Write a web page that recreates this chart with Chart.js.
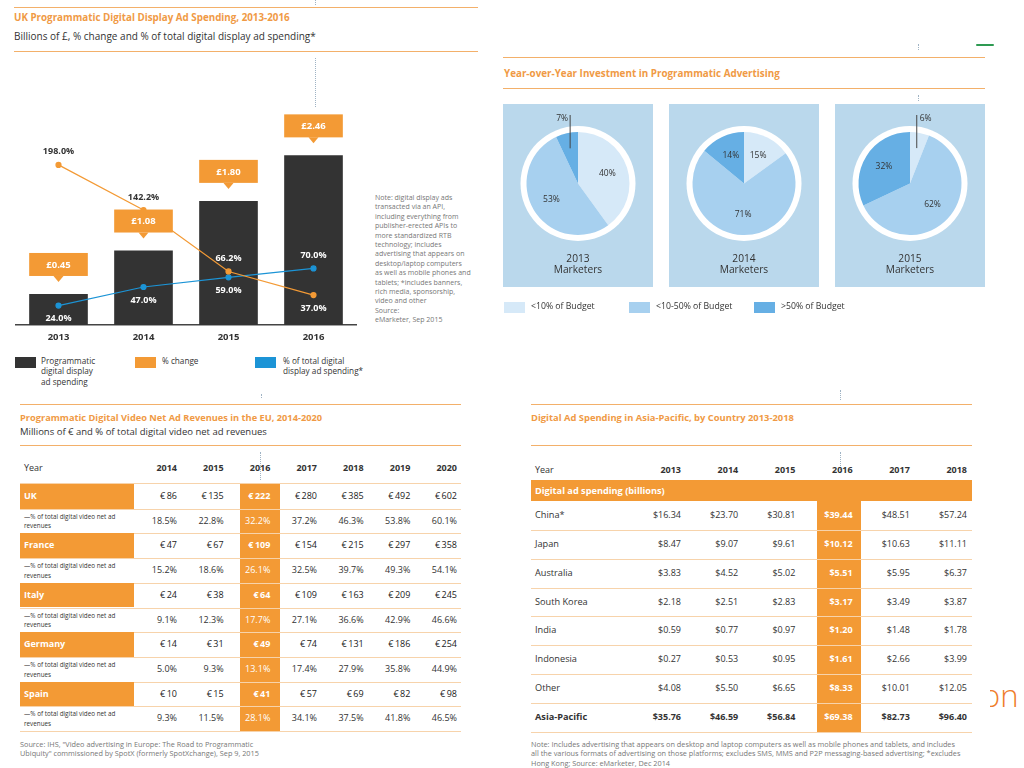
<!DOCTYPE html>
<html>
<head>
<meta charset="utf-8">
<script src="https://cdn.jsdelivr.net/npm/chart.js@4.4.1/dist/chart.umd.min.js"></script>
<style>
body{margin:0;width:1024px;height:768px;position:relative;overflow:hidden;background:#fff;font-family:"Open Sans",sans-serif;color:#333}
.abs{position:absolute;white-space:nowrap}
.rule{position:absolute;height:0;border-top:1.5px solid #f3b06a}
.title{position:absolute;color:#f09a45;font-weight:bold;font-size:9.8px;white-space:nowrap}
.sub{position:absolute;color:#333;font-size:10px;white-space:nowrap}
.dots{position:absolute;width:0;border-left:1px dotted #9fb3c4}
.sq{position:absolute;width:21px;height:11px}
.leg{position:absolute;font-size:8.2px;line-height:10.4px;color:#333}
.note{position:absolute;font-size:7.3px;line-height:9.4px;color:#777;white-space:nowrap}
.box{position:absolute;top:104px;width:150px;height:183px;background:#bad8ec}
.box canvas{position:absolute;left:0;top:0}
.box .yr{position:absolute;left:0;width:150px;top:149px;text-align:center;font-size:10.2px;line-height:10.5px;color:#333}
</style>
</head>
<body>

<!-- panel 1 -->
<div class="rule" style="left:14px;top:7px;width:464px"></div>
<div class="title" style="left:14px;top:11px">UK Programmatic Digital Display Ad Spending, 2013-2016</div>
<div class="sub" style="left:14px;top:29px">Billions of £, % change and % of total digital display ad spending*</div>
<div class="rule" style="left:14px;top:51px;width:464px"></div>
<div class="dots" style="left:315px;top:0;height:5px"></div>
<div class="dots" style="left:315px;top:58px;height:49px"></div>
<canvas id="c1" width="372" height="250" class="abs" style="left:0;top:95px"></canvas>
<div class="note" style="left:375px;top:193px;font-size:7px">Note: digital display ads<br>transacted via an API,<br>including everything from<br>publisher-erected APIs to<br>more standardized RTB<br>technology; includes<br>advertising that appears on<br>desktop/laptop computers<br>as well as mobile phones and<br>tablets; *includes banners,<br>rich media, sponsorship,<br>video and other<br>Source:<br>eMarketer, Sep 2015</div>
<div class="sq" style="left:15px;top:357px;background:#333"></div>
<div class="leg" style="left:41px;top:356px">Programmatic<br>digital display<br>ad spending</div>
<div class="sq" style="left:135px;top:357px;background:#f39a35"></div>
<div class="leg" style="left:162px;top:356px">% change</div>
<div class="sq" style="left:255px;top:357px;background:#1c94d6"></div>
<div class="leg" style="left:283px;top:356px">% of total digital<br>display ad spending*</div>
<div class="dots" style="left:261px;top:394px;height:4px"></div>

<!-- panel 2 -->
<div class="dots" style="left:918px;top:44px;height:6px"></div>
<div class="rule" style="left:503px;top:57px;width:482px"></div>
<div class="title" style="left:504px;top:66px;font-size:9.85px">Year-over-Year Investment in Programmatic Advertising</div>
<div class="rule" style="left:503px;top:88px;width:482px"></div>
<div class="dots" style="left:918px;top:95px;height:6px"></div>
<div class="box" style="left:503px"><canvas id="p0" width="150" height="183"></canvas><div class="yr">2013<br>Marketers</div></div>
<div class="box" style="left:669px"><canvas id="p1" width="150" height="183"></canvas><div class="yr">2014<br>Marketers</div></div>
<div class="box" style="left:835px"><canvas id="p2" width="150" height="183"></canvas><div class="yr">2015<br>Marketers</div></div>
<div id="pieLegend"></div>
<div class="abs" style="left:976px;top:44px;width:18px;height:2px;border-radius:2px;background:#2e9a52"></div>

<!-- panel 3 -->
<div class="rule" style="left:20px;top:404px;width:441px"></div>
<div class="title" style="left:20px;top:411px;font-size:9.25px">Programmatic Digital Video Net Ad Revenues in the EU, 2014-2020</div>
<div class="sub" style="left:20px;top:425px;font-size:9.5px">Millions of € and % of total digital video net ad revenues</div>
<div class="rule" style="left:20px;top:445px;width:441px"></div>
<div class="dots" style="left:260px;top:452px;height:28px"></div>
<div id="t1"></div>
<div class="note" style="left:20px;top:740px">Source: IHS, "Video advertising in Europe: The Road to Programmatic<br>Ubiquity" commissioned by SpotX (formerly SpotXchange), Sep 9, 2015</div>

<!-- panel 4 -->
<div class="dots" style="left:840px;top:390px;height:10px"></div>
<div class="rule" style="left:531px;top:404px;width:441px"></div>
<div class="title" style="left:531px;top:411px;font-size:9.4px">Digital Ad Spending in Asia-Pacific, by Country 2013-2018</div>
<div class="rule" style="left:531px;top:445px;width:441px"></div>
<div class="dots" style="left:840px;top:452px;height:20px"></div>
<div id="t2"></div>
<div class="note" style="left:531px;top:740px">Note: Includes advertising that appears on desktop and laptop computers as well as mobile phones and tablets, and includes<br>all the various formats of advertising on those platforms; excludes SMS, MMS and P2P messaging-based advertising; *excludes<br>Hong Kong; Source: eMarketer, Dec 2014</div>

<div class="abs" style="left:982px;top:674px;font-size:31px;font-weight:300;color:#ef7d2c">on</div>
<div class="abs" style="left:978px;top:680px;width:12px;height:40px;background:#fff"></div>

<script>
const ORANGE = '#f39a35';
const BLUE = '#1c94d6';
const FONT = '"Open Sans"';

// UK programmatic display
const years = ['2013', '2014', '2015', '2016'];
const spending = [0.45, 1.08, 1.80, 2.46];
const pctChange = [198.0, 142.2, 66.2, 37.0];
const pctTotal = [24.0, 47.0, 59.0, 70.0];
// -1 = label above the point, 1 = below
const changeSide = [-1, -1, -1, 1];
const totalSide = [1, 1, 1, -1];

// year-over-year pies
const pieYears = ['2013', '2014', '2015'];
const budgetLabels = ['<10% of Budget', '<10-50% of Budget', '>50% of Budget'];
const pie2013 = [40, 53, 7];
const pie2014 = [15, 71, 14];
const pie2015 = [6, 62, 32];
const pieColors = ['#d6e9f8', '#a7d0ef', '#66afe4'];

// EU video table
const years1 = ['2014', '2015', '2016', '2017', '2018', '2019', '2020'];
const countries1 = ['UK', 'France', 'Italy', 'Germany', 'Spain'];
const revUK = [86, 135, 222, 280, 385, 492, 602];
const revFrance = [47, 67, 109, 154, 215, 297, 358];
const revItaly = [24, 38, 64, 109, 163, 209, 245];
const revGermany = [14, 31, 49, 74, 131, 186, 254];
const revSpain = [10, 15, 41, 57, 69, 82, 98];
const pctUK = [18.5, 22.8, 32.2, 37.2, 46.3, 53.8, 60.1];
const pctFrance = [15.2, 18.6, 26.1, 32.5, 39.7, 49.3, 54.1];
const pctItaly = [9.1, 12.3, 17.7, 27.1, 36.6, 42.9, 46.6];
const pctGermany = [5.0, 9.3, 13.1, 17.4, 27.9, 35.8, 44.9];
const pctSpain = [9.3, 11.5, 28.1, 34.1, 37.5, 41.8, 46.5];

// Asia-Pacific table
const years2 = ['2013', '2014', '2015', '2016', '2017', '2018'];
const countries2 = ['China*', 'Japan', 'Australia', 'South Korea', 'India', 'Indonesia', 'Other', 'Asia-Pacific'];
const apChina = [16.34, 23.70, 30.81, 39.44, 48.51, 57.24];
const apJapan = [8.47, 9.07, 9.61, 10.12, 10.63, 11.11];
const apAustralia = [3.83, 4.52, 5.02, 5.51, 5.95, 6.37];
const apKorea = [2.18, 2.51, 2.83, 3.17, 3.49, 3.87];
const apIndia = [0.59, 0.77, 0.97, 1.20, 1.48, 1.78];
const apIndonesia = [0.27, 0.53, 0.95, 1.61, 2.66, 3.99];
const apOther = [4.08, 5.50, 6.65, 8.33, 10.01, 12.05];
const apTotal = [35.76, 46.59, 56.84, 69.38, 82.73, 96.40];


// callout boxes and point labels for the bar chart
const barLabels = {
    id: 'barLabels',
    afterDatasetsDraw(chart) {
        let ctx = chart.ctx;
        let bars = chart.getDatasetMeta(2).data;
        ctx.save();
        ctx.textAlign = 'center';
        ctx.textBaseline = 'middle';
        ctx.font = 'bold 9.5px ' + FONT;
        bars.forEach((bar, i) => {
            let w = bar.width;
            let bottom = bar.y - 18;
            let top = bottom - 23;
            ctx.fillStyle = ORANGE;
            ctx.fillRect(bar.x - w / 2, top, w, 23);
            ctx.beginPath();
            ctx.moveTo(bar.x - 5, bottom);
            ctx.lineTo(bar.x + 5, bottom);
            ctx.lineTo(bar.x, bottom + 6);
            ctx.closePath();
            ctx.fill();
            ctx.fillStyle = '#fff';
            ctx.fillText('£' + spending[i].toFixed(2), bar.x, top + 12);
        });
        ctx.font = 'bold 9px ' + FONT;
        [[0, pctChange, changeSide], [1, pctTotal, totalSide]].forEach(([di, vals, side]) => {
            chart.getDatasetMeta(di).data.forEach((pt, i) => {
                let y = pt.y + side[i] * 13;
                let bar = bars[i];
                let inside = y > bar.y && Math.abs(pt.x - bar.x) < bar.width / 2;
                ctx.fillStyle = inside ? '#fff' : '#333';
                ctx.fillText(vals[i].toFixed(1) + '%', pt.x, y);
            });
        });
        ctx.restore();
    }
};

new Chart(document.getElementById('c1'), {
    type: 'bar',
    data: {
        labels: years,
        datasets: [
            {type: 'line', label: '% change', data: pctChange, yAxisID: 'yp', borderColor: ORANGE, backgroundColor: ORANGE, borderWidth: 1.2, pointRadius: 2.5, order: 0},
            {type: 'line', label: '% of total', data: pctTotal, yAxisID: 'yp', borderColor: BLUE, backgroundColor: BLUE, borderWidth: 1.2, pointRadius: 2.5, order: 0},
            {type: 'bar', label: 'spending', data: spending, yAxisID: 'y', backgroundColor: '#333333', barPercentage: 0.69, categoryPercentage: 1, order: 1}
        ]
    },
    options: {
        responsive: false,
        animation: false,
        layout: {padding: {left: 16, right: 16, top: 5, bottom: 0}},
        plugins: {legend: {display: false}, tooltip: {enabled: false}},
        scales: {
            x: {
                grid: {display: false, drawTicks: false},
                border: {display: true, color: '#444', width: 1.5},
                ticks: {color: '#333', font: {family: FONT, weight: 'bold', size: 9.5}, padding: 7},
                afterFit(axis) { axis.height = 20; }
            },
            y: {display: false, min: 0, max: 3.26},
            yp: {display: false, min: 0, max: 278}
        }
    },
    plugins: [barLabels]
});


// white ring behind each pie and the slice labels
const pieDeco = {
    id: 'pieDeco',
    beforeDatasetsDraw(chart) {
        let ctx = chart.ctx;
        let a = chart.getDatasetMeta(0).data[0];
        ctx.save();
        ctx.fillStyle = '#fff';
        ctx.beginPath();
        ctx.arc(a.x, a.y, a.outerRadius + 6, 0, Math.PI * 2);
        ctx.fill();
        ctx.restore();
    },
    afterDatasetsDraw(chart) {
        let ctx = chart.ctx;
        let vals = chart.data.datasets[0].data;
        ctx.save();
        ctx.font = '8.5px ' + FONT;
        ctx.fillStyle = '#333';
        ctx.textBaseline = 'middle';
        chart.getDatasetMeta(0).data.forEach((arc, i) => {
            let mid = (arc.startAngle + arc.endAngle) / 2;
            let r = arc.outerRadius;
            if (vals[i] >= 10) {
                ctx.textAlign = 'center';
                ctx.fillText(vals[i] + '%', arc.x + Math.cos(mid) * r * 0.6, arc.y + Math.sin(mid) * r * 0.6);
            } else {
                let lx = arc.x + Math.cos(mid) * r * 0.7;
                let ly = arc.y + Math.sin(mid) * r * 0.7;
                ctx.strokeStyle = '#444';
                ctx.lineWidth = 1;
                ctx.beginPath();
                ctx.moveTo(lx, ly);
                ctx.lineTo(lx, arc.y - r - 17);
                ctx.stroke();
                let left = Math.cos(mid) < 0;
                ctx.textAlign = left ? 'right' : 'left';
                ctx.fillText(vals[i] + '%', lx + (left ? -2 : 3), arc.y - r - 13);
            }
        });
        ctx.restore();
    }
};

[pie2013, pie2014, pie2015].forEach((vals, k) => {
    new Chart(document.getElementById('p' + k), {
        type: 'pie',
        data: {
            labels: budgetLabels,
            datasets: [{data: vals, backgroundColor: pieColors, borderWidth: 0, hoverOffset: 0, offset: 0}]
        },
        options: {
            responsive: false,
            animation: false,
            layout: {padding: {left: 23.5, right: 23.5, top: 28, bottom: 52}},
            plugins: {legend: {display: false}, tooltip: {enabled: false}}
        },
        plugins: [pieDeco]
    });
});

let pl = document.getElementById('pieLegend');
let legX = [504, 629, 754];
budgetLabels.forEach((txt, i) => {
    pl.insertAdjacentHTML('beforeend',
        '<div class="sq" style="left:' + legX[i] + 'px;top:302px;background:' + pieColors[i] + '"></div>' +
        '<div class="leg" style="left:' + (legX[i] + 27) + 'px;top:301px;font-size:8.7px">' + txt.replace('<', '&lt;').replace('>', '&gt;') + '</div>');
});


// plain tables built from the arrays
function put(parent, text, css) {
    let d = document.createElement('div');
    d.className = 'abs';
    d.textContent = text;
    Object.assign(d.style, css);
    parent.appendChild(d);
    return d;
}

function hline(parent, x, y, w, color) {
    put(parent, '', {left: x + 'px', top: y + 'px', width: w + 'px', height: '1px', background: color});
}

let t1 = document.getElementById('t1');
let revs = [revUK, revFrance, revItaly, revGermany, revSpain];
let pcts = [pctUK, pctFrance, pctItaly, pctGermany, pctSpain];
let rh1 = 24.7;
let top1 = 484;
let colR1 = i => 177 + i * 46.67;
put(t1, '', {left: '240px', top: top1 + 'px', width: '40px', height: (rh1 * 10) + 'px', background: ORANGE});
put(t1, 'Year', {left: '24px', top: '461px', fontSize: '9px', lineHeight: '14px'});
years1.forEach((y, i) => {
    put(t1, y, {left: (colR1(i) - 60) + 'px', width: '60px', textAlign: 'right', top: '461px', fontSize: '9px', lineHeight: '14px', fontWeight: 'bold'});
});
hline(t1, 20, top1 - 1, 441, '#f7d3ab');
countries1.forEach((c, k) => {
    let y = top1 + k * 2 * rh1;
    put(t1, c, {left: '20px', top: y + 'px', width: '110px', paddingLeft: '4px', height: rh1 + 'px', lineHeight: rh1 + 'px', background: ORANGE, color: '#fff', fontWeight: 'bold', fontSize: '9px'});
    put(t1, '—% of total digital video net ad\nrevenues', {left: '24px', top: (y + rh1 + 3) + 'px', fontSize: '6.3px', lineHeight: '9.8px', whiteSpace: 'pre'});
    revs[k].forEach((v, i) => {
        put(t1, '€\u2009' + v, {left: (colR1(i) - 60) + 'px', width: '60px', textAlign: 'right', top: y + 'px', lineHeight: rh1 + 'px', fontSize: '9px', color: i === 2 ? '#fff' : '#222', fontWeight: i === 2 ? 'bold' : 'normal'});
    });
    pcts[k].forEach((v, i) => {
        put(t1, v.toFixed(1) + '%', {left: (colR1(i) - 60) + 'px', width: '60px', textAlign: 'right', top: (y + rh1) + 'px', lineHeight: rh1 + 'px', fontSize: '9px', color: i === 2 ? '#fff' : '#333'});
    });
    hline(t1, 20, y + rh1, 441, '#f7d3ab');
    hline(t1, 20, y + 2 * rh1, 441, '#f7d3ab');
});

let t2 = document.getElementById('t2');
let ap = [apChina, apJapan, apAustralia, apKorea, apIndia, apIndonesia, apOther, apTotal];
let rh2 = 28.85;
let top2 = 501;
let colR2 = i => 681 + i * 57.2;
put(t2, '', {left: '817px', top: top2 + 'px', width: '44px', height: (rh2 * 8) + 'px', background: ORANGE});
put(t2, 'Year', {left: '535px', top: '463px', fontSize: '9px', lineHeight: '14px'});
years2.forEach((y, i) => {
    put(t2, y, {left: (colR2(i) - 60) + 'px', width: '60px', textAlign: 'right', top: '463px', fontSize: '9px', lineHeight: '14px', fontWeight: 'bold'});
});
put(t2, 'Digital ad spending (billions)', {left: '531px', top: '480px', width: '437px', paddingLeft: '4px', height: '21px', lineHeight: '21px', background: ORANGE, color: '#fff', fontWeight: 'bold', fontSize: '9.2px'});
countries2.forEach((c, k) => {
    let y = top2 + k * rh2;
    let last = k === countries2.length - 1;
    put(t2, c, {left: '535px', top: y + 'px', lineHeight: rh2 + 'px', fontSize: '9.2px', fontWeight: last ? 'bold' : 'normal'});
    ap[k].forEach((v, i) => {
        put(t2, '$' + v.toFixed(2), {left: (colR2(i) - 60) + 'px', width: '60px', textAlign: 'right', top: y + 'px', lineHeight: rh2 + 'px', fontSize: '9px', color: i === 3 ? '#fff' : '#333', fontWeight: (last || i === 3) ? 'bold' : 'normal'});
    });
    hline(t2, 531, y + rh2, 441, '#f7d3ab');
});
</script>
</body>
</html>
